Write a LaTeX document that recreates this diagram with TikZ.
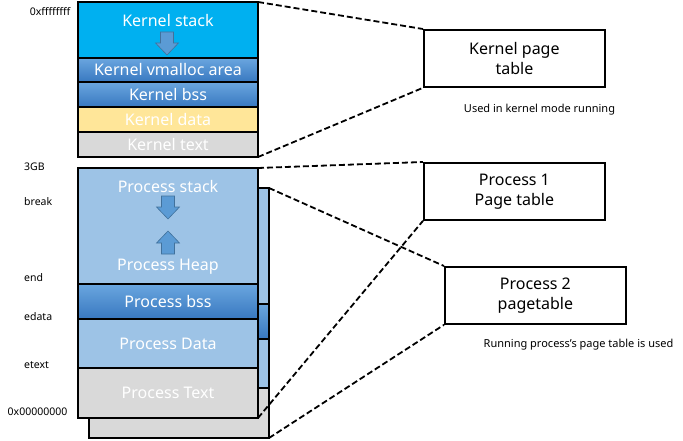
\documentclass[tikz,border=0pt]{standalone}
\usepackage{fontspec}
\setmainfont{Noto Sans}
\usepackage{tikz}
\usetikzlibrary{positioning}

\definecolor{kstackblue}{HTML}{00B0F0}
\definecolor{procblue}{HTML}{9DC3E6}
\definecolor{bsstop}{HTML}{6AA6DF}
\definecolor{bssbottom}{HTML}{3878C0}
\definecolor{datayellow}{HTML}{FFE699}
\definecolor{textgray}{HTML}{D9D9D9}
\definecolor{arrowblue}{HTML}{5B9BD5}
\definecolor{arrowedge}{HTML}{41719C}

\tikzset{
  block/.style={draw=black, line width=1.4pt, minimum width=180pt, inner sep=0pt, outer sep=0pt,
    anchor=north west, text=white, font=\fontsize{16}{18}\selectfont},
  bssgrad/.style={top color=bsstop, bottom color=bssbottom},
  blocktext/.style={text=white, font=\fontsize{16}{18}\selectfont, inner sep=0pt},
  memframe/.style={draw=black, line width=2.2pt},
  pagetable/.style={draw=black, line width=1.8pt, minimum width=181pt, minimum height=57pt,
    align=center, font=\fontsize{16}{20}\selectfont, anchor=north west},
  note/.style={font=\fontsize{11}{12}\selectfont, inner sep=0pt},
  addr/.style={font=\fontsize{10.5}{12}\selectfont, inner sep=0pt},
  linkline/.style={dashed, dash pattern=on 6pt off 3pt, line width=1.8pt},
  arrowstyle/.style={fill=arrowblue, draw=arrowedge, line width=0.6pt}
}

% block arrows, given the flat end
\newcommand{\downblockarrow}[1]{\filldraw[arrowstyle] (#1) ++(-6.5,0) -- ++(13,0) -- ++(0,11) -- ++(5,0) -- ++(-11.5,12) -- ++(-11.5,-12) -- ++(5,0) -- cycle;}
\newcommand{\upblockarrow}[1]{\filldraw[arrowstyle] (#1) ++(-6.5,0) -- ++(13,0) -- ++(0,-11) -- ++(5,0) -- ++(-11.5,-12) -- ++(-11.5,12) -- ++(5,0) -- cycle;}

\begin{document}
\begin{tikzpicture}[x=1pt,y=-1pt]
  \useasboundingbox (0,0) rectangle (683,441);

  % Kernel area
  \node[block, fill=kstackblue, minimum height=56pt] (kstack) at (78,2) {};
  \node[block, bssgrad, minimum height=24pt] (kvmalloc) at (kstack.south west) {Kernel vmalloc area};
  \node[block, bssgrad, minimum height=25pt] (kbss) at (kvmalloc.south west) {Kernel bss};
  \node[block, fill=datayellow, minimum height=25pt] (kdata) at (kbss.south west) {Kernel data};
  \node[block, fill=textgray, minimum height=25pt] (ktext) at (kdata.south west) {Kernel text};
  \node[blocktext] (kstacklabel) at ([yshift=-19pt]kstack.north) {Kernel stack};
  \downblockarrow{[xshift=-1pt,yshift=-30pt]kstack.north}
  \draw[memframe] (kstack.north west) rectangle (ktext.south east);

  % Process areas, process 2 behind process 1
  \foreach \p/\dx/\dy in {ptwo/11/20, pone/0/0} {
    \node[block, fill=procblue, minimum height=116pt] (\p stack) at (78+\dx,168+\dy) {};
    \node[block, bssgrad, minimum height=35pt] (\p bss) at (\p stack.south west) {Process bss};
    \node[block, fill=procblue, minimum height=49pt] (\p data) at (\p bss.south west) {Process Data};
    \node[block, fill=textgray, minimum height=50pt] (\p text) at (\p data.south west) {Process Text};
    \node[blocktext] (\p stacklabel) at ([yshift=-19pt]\p stack.north) {Process stack};
    \node[blocktext] (\p heaplabel) at ([yshift=17pt]\p stack.south) {Process Heap};
    \downblockarrow{[yshift=-28pt]\p stack.north}
    \upblockarrow{[yshift=30pt]\p stack.south}
    \draw[memframe] (\p stack.north west) rectangle (\p text.south east);
  }

  % Addresses
  \node[addr] (top) at (50,12) {0xffffffff};
  \node[addr, anchor=west] (threegb) at (24,167) {3GB};
  \node[addr, anchor=west] (break) at (24,202) {break};
  \node[addr, anchor=west] (end) at (24,278) {end};
  \node[addr, anchor=west] (edata) at (24,317) {edata};
  \node[addr, anchor=west] (etext) at (24,365) {etext};
  \node[addr] (zero) at (37.5,412) {0x00000000};

  % Page tables
  \node[pagetable] (kpt) at (423,29) {Kernel page\\table};
  \node[pagetable] (ponept) at (423,162) {Process 1\\Page table};
  \node[pagetable] (ptwopt) at (444,266) {Process 2\\pagetable};
  \node[note] (knote) at (539.5,110) {Used in kernel mode running};
  \node[note] (pnote) at (578.5,345) {Running process’s page table is used};

  \draw[linkline] (kstack.north east) -- (kpt.north west);
  \draw[linkline] (ktext.south east) -- (kpt.south west);
  \draw[linkline] (ponestack.north east) -- (ponept.north west);
  \draw[linkline] (ponetext.south east) -- (ponept.south west);
  \draw[linkline] (ptwostack.north east) -- (ptwopt.north west);
  \draw[linkline] (ptwotext.south east) -- (ptwopt.south west);
\end{tikzpicture}
\end{document}
